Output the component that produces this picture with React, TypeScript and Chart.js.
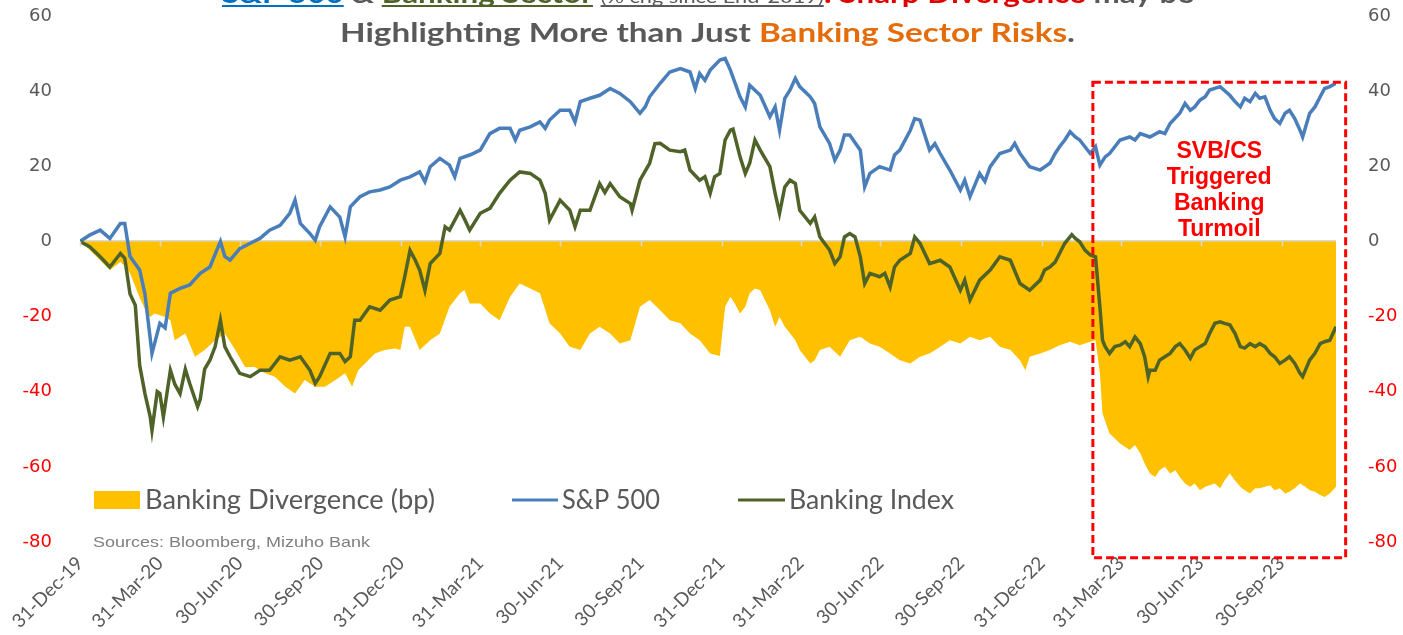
import React, { useEffect, useRef } from 'react';
import { Chart, registerables } from 'chart.js';

Chart.register(...registerables);

// ---- Data (x = days since 31-Dec-2019, y = % change / divergence) ----
const TICK_DAYS = [0, 91, 182, 274, 366, 456, 547, 639, 731, 821, 912, 1004, 1096, 1186, 1277, 1369];
const TICK_LABELS = [
  '31-Dec-19', '31-Mar-20', '30-Jun-20', '30-Sep-20', '31-Dec-20', '31-Mar-21', '30-Jun-21', '30-Sep-21',
  '31-Dec-21', '31-Mar-22', '30-Jun-22', '30-Sep-22', '31-Dec-22', '31-Mar-23', '30-Jun-23', '30-Sep-23',
];
const LAST_DAY = 1431;
const Y_TICKS = [-80, -60, -40, -20, 0, 20, 40, 60];
const SERIES_NAMES = ['Banking Divergence (bp)', 'S&P 500', 'Banking Index'];

const SP500: [number, number][] = [
  [0, 0], [11, 1.7], [23, 3.0], [34, 0.8], [46, 4.8], [51, 4.8], [57, -4], [68, -7.6], [74, -14], [82, -29.8],
  [91, -21.8], [97, -23], [103, -13.8], [114, -12.5], [125, -11.6], [137, -8.5], [148, -6.8], [160, 0], [165, -4],
  [171, -5], [182, -1.9], [194, -0.5], [205, 0.8], [216, 3], [228, 4.3], [239, 7.5], [245, 11], [251, 4.8],
  [262, 2.1], [268, 0.3], [273, 3.9], [285, 9.2], [296, 6.5], [302, 1.2], [308, 9.2], [319, 11.9], [330, 13.2],
  [342, 13.7], [353, 14.5], [365, 16.3],
  [376, 17.2], [387, 18.5], [393, 15.9], [399, 19.9], [410, 22.1], [421, 20.3], [427, 17.2], [433, 22.1], [444, 23],
  [456, 24.3], [467, 28.7], [478, 30.1], [490, 30.1], [496, 27], [501, 29.6], [513, 30.5], [524, 31.8], [530, 30.1],
  [535, 32.3], [547, 34.9], [558, 34.9], [564, 31.8], [570, 37.2], [581, 38.1], [592, 38.9], [604, 40.7], [615, 39.4],
  [627, 37.2], [638, 34.1], [644, 35.8], [649, 38.5], [661, 42.1], [672, 45.1], [684, 46], [695, 45.1], [701, 40.7],
  [706, 44.7], [712, 42.9], [718, 45.6], [729, 48.3], [735, 48.7],
  [741, 45.6], [752, 38.5], [758, 35.8], [763, 41.6], [775, 38.9], [786, 33.2], [792, 35.8], [797, 29.6], [803, 38.1],
  [809, 40.3], [815, 43.4], [820, 41.2], [832, 38.5], [837, 36.7], [843, 30.5], [854, 26.1], [860, 21.6], [866, 24.3],
  [871, 28.3], [877, 28.3], [889, 24.3], [894, 14.5], [900, 18.1], [911, 19.9], [923, 19], [928, 23], [934, 24.3],
  [946, 29.6], [951, 32.7], [957, 32.3], [968, 24.3], [974, 26], [980, 23.4], [991, 19], [1003, 13.7], [1008, 16.3],
  [1014, 11.9], [1025, 18.1], [1031, 16], [1037, 19.9], [1048, 23.4], [1060, 24.3], [1065, 26.1], [1071, 23.4],
  [1082, 19.9], [1094, 19],
  [1105, 20.8], [1111, 23.4], [1116, 25.2], [1122, 27], [1128, 29.2], [1134, 27.8], [1139, 27], [1145, 25.2],
  [1151, 23.4], [1157, 25.2], [1162, 20.3], [1168, 22.5], [1173, 23.4], [1185, 27], [1196, 27.8], [1202, 27],
  [1208, 28.7], [1219, 27.8], [1230, 29.2], [1236, 28.7], [1242, 31.4], [1253, 34.1], [1259, 36.7], [1265, 34.9],
  [1270, 35.8], [1276, 37.6], [1282, 38.5], [1287, 40.3], [1299, 41.2], [1310, 38.9], [1316, 37.2], [1322, 35.8],
  [1327, 38.1], [1333, 37.2], [1339, 39.4], [1344, 38.1], [1350, 38.5], [1356, 34.9], [1361, 32.7], [1367, 31.4],
  [1373, 34.1], [1378, 34.9], [1384, 32.7], [1390, 29.6], [1393, 27.8], [1401, 34.1], [1407, 35.8], [1413, 38.5],
  [1418, 40.7], [1424, 41.2], [1431, 42.1],
];

const BANKING: [number, number][] = [
  [0, 0], [11, -1.4], [23, -4.1], [34, -6.8], [46, -3.2], [51, -4.5], [57, -14], [63, -17], [68, -33], [74, -40.5],
  [80, -46.7], [82, -50.3], [88, -40], [91, -40.5], [95, -46.7], [103, -34.3], [108, -38], [114, -40.5], [120, -34],
  [125, -37.8], [134, -44], [137, -42], [142, -34], [148, -31.6], [154, -28], [160, -21], [165, -28], [171, -30.7],
  [182, -35.1], [194, -36], [205, -34.3], [216, -34.3], [228, -30.7], [239, -31.6], [251, -30.7], [262, -34.3],
  [268, -37.8], [273, -36], [285, -29.8], [296, -29.8], [302, -32], [308, -30.7], [313, -21], [319, -21],
  [330, -17.4], [342, -18.3], [353, -15.6], [365, -14.7],
  [370, -9.4], [376, -2.4], [382, -5], [387, -7.6], [393, -13], [399, -5.9], [410, -3.2], [416, 3.9], [421, 3],
  [433, 8.3], [438, 6], [444, 3], [456, 7.5], [467, 8.8], [478, 12.8], [490, 16.3], [501, 18.5], [513, 18.1],
  [524, 16.3], [530, 12.8], [535, 5.7], [547, 11], [558, 8.3], [564, 3.9], [570, 8.3], [581, 8.3], [592, 15.4],
  [598, 13], [604, 15.4], [615, 11.9], [627, 10.1], [629, 8.3], [638, 16.3], [649, 20.8], [655, 26], [661, 26.1],
  [672, 24.3], [684, 23.9], [689, 24.3], [695, 19], [706, 16.3], [712, 17.2], [718, 12.8], [723, 17.2], [729, 18.1],
  [735, 27], [741, 29.6], [744, 29.9],
  [752, 22.5], [758, 18.1], [763, 20.8], [769, 27], [775, 24.3], [786, 19.9], [792, 12.8], [797, 7.5], [803, 14.5],
  [809, 16.3], [815, 15.4], [820, 8.3], [832, 4.8], [837, 6.5], [843, 1.2], [854, -2.3], [860, -5.9], [866, -4.1],
  [871, 1.2], [877, 2.1], [883, 1.2], [889, -4.1], [894, -11.2], [900, -8.5], [911, -9.4], [917, -8.5], [923, -12.1],
  [928, -6.8], [934, -5], [946, -3.2], [951, 1.2], [957, -0.5], [968, -5.9], [980, -5], [991, -6.8], [1003, -13],
  [1008, -10.3], [1014, -15.6], [1025, -10.3], [1037, -7.6], [1048, -4.1], [1060, -5], [1071, -11.2], [1082, -13],
  [1094, -10.3], [1099, -7.6],
  [1105, -6.8], [1111, -5.5], [1116, -3.2], [1122, -0.5], [1130, 1.8], [1134, 0.8], [1139, -0.1], [1145, -2.3],
  [1151, -3.6], [1157, -4.1], [1162, -17.4], [1165, -26.3], [1168, -28], [1173, -29.8], [1179, -28], [1185, -27.6],
  [1191, -26.7], [1196, -28], [1202, -25.4], [1208, -27.2], [1213, -30.7], [1217, -36], [1219, -34.3], [1225, -34.3],
  [1230, -31.6], [1236, -30.7], [1242, -29.8], [1248, -28], [1253, -27.2], [1259, -28.9], [1265, -31.1], [1270, -28.9],
  [1276, -28], [1282, -27.2], [1287, -24.5], [1293, -21.8], [1299, -21.4], [1304, -21.8], [1310, -22.2], [1316, -24.5],
  [1322, -28], [1327, -28.4], [1333, -27.2], [1339, -28], [1344, -27.2], [1350, -28], [1356, -29.8], [1361, -30.7],
  [1367, -32.5], [1373, -31.6], [1378, -30.7], [1384, -32.5], [1390, -35.1], [1393, -36], [1401, -31.6], [1407, -29.8],
  [1413, -27.2], [1418, -26.7], [1424, -26.3], [1431, -22.7],
];

const DIVERGENCE: [number, number][] = [
  [0, 0], [11, -2.2], [23, -5], [34, -7.6], [46, -5.5], [51, -6.5], [57, -8.5], [63, -12], [68, -15], [74, -18],
  [80, -20.1], [85, -19.2], [97, -20.1], [103, -21], [108, -26.3], [120, -24.5], [131, -30.7], [142, -28.9],
  [154, -26.3], [165, -24.5], [177, -28.9], [188, -33.4], [199, -33.4], [211, -35.1], [222, -36], [234, -38.7],
  [245, -40.5], [256, -36.9], [268, -38.7], [279, -38.7], [291, -36.9], [302, -35.1], [310, -38.7], [317, -34.3],
  [336, -29.8], [347, -28.9], [359, -28.5], [365, -28.9],
  [370, -22.7], [376, -22.7], [387, -28.9], [399, -26.3], [410, -24.5], [421, -17.4], [433, -13.8], [438, -12.9],
  [444, -16.5], [456, -16.5], [467, -19.2], [478, -21], [490, -14.7], [501, -11.2], [513, -12.5], [524, -13.8],
  [535, -21.8], [547, -24.5], [558, -28], [570, -28.9], [581, -24.5], [592, -22.7], [604, -24.5], [615, -27.2],
  [627, -26.3], [638, -17.4], [649, -15.6], [661, -18.3], [672, -21], [684, -21.8], [695, -24.5], [706, -26.3],
  [718, -29.8], [729, -30.5],
  [735, -17.4], [741, -14.7], [746, -16.5], [752, -19.2], [758, -17.4], [763, -13.8], [769, -12.5], [775, -13],
  [786, -18.3], [792, -22.7], [797, -20.1], [803, -22.7], [809, -24.5], [815, -26.3], [820, -28.9], [832, -32.5],
  [837, -31.6], [843, -28.9], [854, -28], [866, -30.7], [877, -26.3], [889, -25.4], [900, -27.2], [911, -28],
  [923, -29.8], [934, -31.6], [946, -32.5], [957, -30.7], [968, -29.8], [980, -28], [991, -26.3], [1003, -27.2],
  [1014, -25.4], [1025, -26.3], [1037, -25.4], [1048, -28], [1060, -28.9], [1071, -31.6], [1077, -34.3],
  [1082, -30.7], [1094, -29.8],
  [1105, -28.9], [1116, -27.6], [1128, -26.7], [1139, -27.6], [1151, -26.7], [1157, -26.3], [1162, -35.1],
  [1165, -45.8], [1173, -51.1], [1185, -53.8], [1196, -55.5], [1202, -54.2], [1208, -56.4], [1213, -59.1],
  [1219, -61.8], [1225, -62.7], [1230, -60.9], [1236, -60], [1242, -61.8], [1248, -60.9], [1253, -62.7],
  [1259, -64.4], [1265, -65.3], [1270, -64.4], [1276, -66.2], [1282, -65.3], [1287, -64.9], [1293, -64.4],
  [1299, -65.7], [1304, -63.6], [1310, -61.8], [1316, -63.6], [1322, -65.3], [1327, -66.2], [1333, -67.1],
  [1339, -65.7], [1344, -65.7], [1350, -65.3], [1356, -64.9], [1361, -66.2], [1367, -65.7], [1373, -67.1],
  [1378, -66.6], [1384, -65.7], [1390, -64.4], [1396, -65.3], [1401, -66.2], [1407, -66.6], [1413, -67.5],
  [1418, -68], [1424, -67.1], [1431, -65.3],
];

// Annotation (in data units)
const ANNOTATION_LINES = ['SVB/CS', 'Triggered', 'Banking', 'Turmoil'];
const ANNOT_CENTER_DAY = 1298;
const ANNOT_FIRST_BASELINE = 22.1;
const BOX = { startDay: 1154, endDay: 1442, top: 42.4, bottom: -84.2 };

// ---- Styles ----
const C_DIV = '#FFC000';
const C_SP = '#4A7EBB';
const C_BANK = '#4F6228';
const C_GRAY = '#595959';
const C_RED = '#FF0000';

type Run = { text: string; color: string; font: string; underline?: boolean };

function drawRuns(ctx: CanvasRenderingContext2D, runs: Run[], x: number, baseline: number, targetWidth?: number) {
  const widths = runs.map((r) => {
    ctx.font = r.font;
    return ctx.measureText(r.text).width;
  });
  const total = widths.reduce((a, b) => a + b, 0);
  const s = targetWidth ? targetWidth / total : 1;
  ctx.save();
  ctx.translate(x, baseline);
  ctx.scale(s, 1);
  ctx.textBaseline = 'alphabetic';
  ctx.textAlign = 'left';
  let cx = 0;
  runs.forEach((r, i) => {
    ctx.font = r.font;
    ctx.fillStyle = r.color;
    ctx.fillText(r.text, cx, 0);
    if (r.underline) {
      ctx.fillRect(cx, 2, widths[i], 2);
    }
    cx += widths[i];
  });
  ctx.restore();
}

const overlayPlugin = {
  id: 'overlay',
  afterDatasetsDraw(chart: any) {
    const { ctx } = chart;
    const xs = chart.scales.x;
    const ys = chart.scales.y;
    const y0 = ys.getPixelForValue(0);
    ctx.save();
    ctx.strokeStyle = '#D9D9D9';
    ctx.lineWidth = 1.5;
    TICK_DAYS.forEach((d) => {
      const px = Math.round(xs.getPixelForValue(d)) + 0.5;
      ctx.beginPath();
      ctx.moveTo(px, y0);
      ctx.lineTo(px, y0 + 5);
      ctx.stroke();
    });
    ctx.restore();
  },
  afterDraw(chart: any) {
    const { ctx } = chart;
    const xs = chart.scales.x;
    const ys = chart.scales.y;

    // Title (first line partly cut off at the top)
    const B26 = 'bold 26px Lato';
    drawRuns(
      ctx,
      [
        { text: 'S&P 500', color: '#0070C0', font: B26, underline: true },
        { text: ' & ', color: C_GRAY, font: B26 },
        { text: 'Banking Sector', color: C_BANK, font: B26, underline: true },
        { text: ' ', color: C_GRAY, font: B26 },
        { text: '(% chg since End-2019)', color: C_GRAY, font: '18px Lato', underline: true },
        { text: ': ', color: '#E00000', font: B26 },
        { text: 'Sharp Divergence', color: '#E00000', font: B26 },
        { text: ' may be', color: C_GRAY, font: B26 },
      ],
      222,
      3,
      972,
    );
    drawRuns(
      ctx,
      [
        { text: 'Highlighting More than Just ', color: C_GRAY, font: B26 },
        { text: 'Banking Sector Risks', color: '#E46C0A', font: B26 },
        { text: '.', color: C_GRAY, font: B26 },
      ],
      340,
      42,
      735,
    );

    // Legend
    ctx.save();
    ctx.fillStyle = C_DIV;
    ctx.fillRect(94, 491, 46, 18);
    ctx.lineWidth = 3;
    ctx.strokeStyle = C_SP;
    ctx.beginPath();
    ctx.moveTo(512, 500);
    ctx.lineTo(558, 500);
    ctx.stroke();
    ctx.strokeStyle = C_BANK;
    ctx.beginPath();
    ctx.moveTo(738, 500);
    ctx.lineTo(785, 500);
    ctx.stroke();
    ctx.restore();
    const R26 = '26px Lato';
    drawRuns(ctx, [{ text: SERIES_NAMES[0], color: C_GRAY, font: R26 }], 145, 509, 290);
    drawRuns(ctx, [{ text: SERIES_NAMES[1], color: C_GRAY, font: R26 }], 562, 509, 98);
    drawRuns(ctx, [{ text: SERIES_NAMES[2], color: C_GRAY, font: R26 }], 789, 509, 165);

    // Sources
    drawRuns(
      ctx,
      [{ text: 'Sources: Bloomberg, Mizuho Bank', color: '#7F7F7F', font: '15px "Liberation Sans"' }],
      93,
      547,
      277,
    );

    // Dashed annotation box
    const bx0 = xs.getPixelForValue(BOX.startDay);
    const bx1 = xs.getPixelForValue(BOX.endDay);
    const by0 = ys.getPixelForValue(BOX.top);
    const by1 = ys.getPixelForValue(BOX.bottom);
    ctx.save();
    ctx.strokeStyle = C_RED;
    ctx.lineWidth = 3;
    ctx.setLineDash([8, 4]);
    ctx.strokeRect(bx0, by0, bx1 - bx0, by1 - by0);
    ctx.restore();

    // Annotation text
    ctx.save();
    ctx.fillStyle = C_RED;
    ctx.font = 'bold 23px "Liberation Sans"';
    ctx.textAlign = 'center';
    ctx.textBaseline = 'alphabetic';
    const cx = xs.getPixelForValue(ANNOT_CENTER_DAY);
    const firstY = ys.getPixelForValue(ANNOT_FIRST_BASELINE);
    ANNOTATION_LINES.forEach((line, i) => ctx.fillText(line, cx, firstY + i * 26));
    ctx.restore();
  },
};

const yTickColor = (c: any) => (c.tick && c.tick.value < 0 ? C_RED : C_GRAY);

export default function App() {
  const ref = useRef<HTMLCanvasElement>(null);

  useEffect(() => {
    const canvas = ref.current;
    if (!canvas) return;
    const toXY = (arr: [number, number][]) => arr.map(([x, y]) => ({ x, y }));
    const yFit = (w: number) => (s: any) => {
      s.width = w;
      s.paddingTop = 0;
      s.paddingBottom = 0;
    };
    const chart = new Chart(canvas, {
      type: 'line',
      data: {
        datasets: [
          {
            label: SERIES_NAMES[2],
            data: toXY(BANKING),
            borderColor: C_BANK,
            borderWidth: 3.5,
            pointRadius: 0,
            fill: false,
          },
          {
            label: SERIES_NAMES[1],
            data: toXY(SP500),
            borderColor: C_SP,
            borderWidth: 3.5,
            pointRadius: 0,
            fill: false,
          },
          {
            label: SERIES_NAMES[0],
            data: toXY(DIVERGENCE),
            borderColor: 'rgba(0,0,0,0)',
            borderWidth: 0,
            backgroundColor: C_DIV,
            pointRadius: 0,
            fill: 'origin',
          },
        ],
      },
      options: {
        animation: false,
        responsive: false,
        devicePixelRatio: 1,
        layout: { padding: { top: 16, left: 0, right: 0, bottom: 0 } },
        elements: { line: { tension: 0 }, point: { radius: 0 } },
        plugins: {
          legend: { display: false },
          tooltip: { enabled: false },
          title: { display: false },
        },
        scales: {
          x: {
            type: 'linear',
            min: 0,
            max: LAST_DAY,
            afterBuildTicks: (s: any) => {
              s.ticks = TICK_DAYS.map((v) => ({ value: v }));
            },
            afterFit: (s: any) => {
              s.height = 93;
              s.paddingTop = 0;
              s.paddingBottom = 0;
            },
            grid: { display: false },
            border: { display: false },
            ticks: {
              autoSkip: false,
              minRotation: 45,
              maxRotation: 45,
              padding: 2,
              color: C_GRAY,
              font: { family: 'Lato', size: 19 },
              callback: (_v: any, i: number) => TICK_LABELS[i],
            },
          },
          y: {
            position: 'left',
            min: -80,
            max: 60,
            afterBuildTicks: (s: any) => {
              s.ticks = Y_TICKS.map((v) => ({ value: v }));
            },
            afterFit: yFit(80),
            grid: {
              color: (c: any) => (c.tick && c.tick.value === 0 ? '#D9D9D9' : 'rgba(0,0,0,0)'),
              lineWidth: 2,
              drawTicks: false,
            },
            border: { display: false },
            ticks: {
              padding: 28,
              color: yTickColor,
              font: { family: 'DejaVu Sans', size: 18 },
            },
          },
          y2: {
            position: 'right',
            min: -80,
            max: 60,
            afterBuildTicks: (s: any) => {
              s.ticks = Y_TICKS.map((v) => ({ value: v }));
            },
            afterFit: yFit(67),
            grid: { display: false, drawTicks: false },
            border: { display: false },
            ticks: {
              padding: 32,
              color: yTickColor,
              font: { family: 'DejaVu Sans', size: 18 },
            },
          },
        },
      } as any,
      plugins: [overlayPlugin],
    });
    return () => chart.destroy();
  }, []);

  return (
    <div style={{ position: 'absolute', left: 0, top: 0, width: 1403, height: 635, background: '#ffffff' }}>
      <canvas ref={ref} width={1403} height={635} style={{ display: 'block', width: 1403, height: 635 }} />
    </div>
  );
}
